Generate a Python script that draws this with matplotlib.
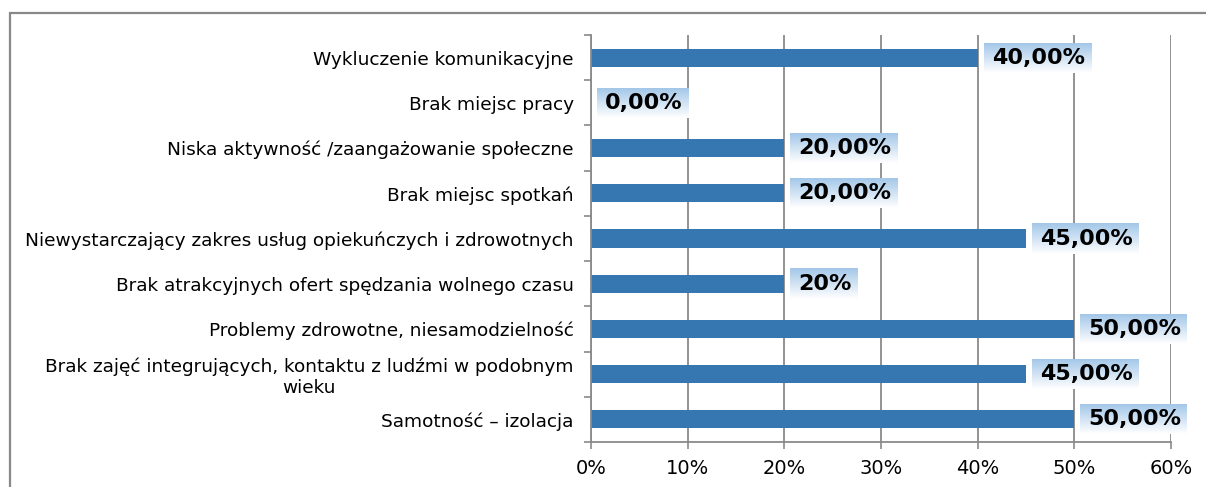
import numpy as np
import matplotlib
matplotlib.use("Agg")
import matplotlib.pyplot as plt
import matplotlib.transforms as mtransforms
from matplotlib.patches import Rectangle

# data
categories = [
    "Wykluczenie komunikacyjne",
    "Brak miejsc pracy",
    "Niska aktywność /zaangażowanie społeczne",
    "Brak miejsc spotkań",
    "Niewystarczający zakres usług opiekuńczych i zdrowotnych",
    "Brak atrakcyjnych ofert spędzania wolnego czasu",
    "Problemy zdrowotne, niesamodzielność",
    "Brak zajęć integrujących, kontaktu z ludźmi w podobnym\nwieku",
    "Samotność – izolacja",
]
values = [0.40, 0.0, 0.20, 0.20, 0.45, 0.20, 0.50, 0.45, 0.50]
value_labels = ["40,00%", "0,00%", "20,00%", "20,00%", "45,00%", "20%",
                "50,00%", "45,00%", "50,00%"]
xticks = [0, 0.1, 0.2, 0.3, 0.4, 0.5, 0.6]
xtick_labels = ["0%", "10%", "20%", "30%", "40%", "50%", "60%"]

plt.rcParams['font.family'] = ['DejaVu Sans']
grid_col = '#8a8a8a'
bar_col = '#3777b1'

fig = plt.figure(figsize=(12.06, 4.87), dpi=100)
ax = fig.add_axes([591 / 1206, 1 - 442 / 487, 580 / 1206, 407 / 487])

# outer frame
fig.patches.append(Rectangle((10 / 1206, -0.1), 1.2, 1.1 - 13 / 487,
                             transform=fig.transFigure, fill=False,
                             edgecolor='#888888', lw=1.6))

y = np.arange(len(categories))
ax.barh(y, values, height=0.4, color=bar_col, zorder=2)

ax.set_xlim(0, 0.6)
ax.set_ylim(len(categories) - 0.5, -0.5)
ax.set_xticks(xticks)
ax.set_xticklabels(xtick_labels, fontsize=14)
ax.set_yticks(y)
ax.set_yticklabels(categories, fontsize=13.3, multialignment='center')
ax.tick_params(axis='y', length=0, pad=12.5)
ax.set_yticks(np.arange(len(categories) + 1) - 0.5, minor=True)
ax.tick_params(axis='y', which='minor', length=5, color=grid_col, width=1.2)
ax.tick_params(axis='x', length=5, color=grid_col, width=1.2, pad=7)
ax.xaxis.grid(True, color=grid_col, lw=1.3, zorder=0)
ax.set_axisbelow(True)
for s in ['top', 'right']:
    ax.spines[s].set_visible(False)
for s in ['left', 'bottom']:
    ax.spines[s].set_color(grid_col)
    ax.spines[s].set_linewidth(1.3)

# value labels with gradient boxes
offset = mtransforms.offset_copy(ax.transData, fig=fig, x=14, y=0, units='dots')
texts = []
for yi, v, lab in zip(y, values, value_labels):
    t = ax.text(v, yi, lab, transform=offset, fontsize=16, fontweight='heavy',
                va='center', ha='left', zorder=5, clip_on=False)
    texts.append(t)

fig.canvas.draw()
renderer = fig.canvas.get_renderer()
top_col = np.array([0.64, 0.78, 0.91])
grad = np.linspace(0, 1, 64)[:, None, None]
img = top_col * (1 - grad) + np.ones(3) * grad
inv = ax.transData.inverted()
for t in texts:
    bb = t.get_window_extent(renderer)
    x0, x1 = bb.x0 - 8, bb.x1 + 6
    yc = (bb.y0 + bb.y1) / 2
    y0, y1 = yc - 15, yc + 15
    (dx0, dy0) = inv.transform((x0, y0))
    (dx1, dy1) = inv.transform((x1, y1))
    ax.imshow(img, extent=(dx0, dx1, dy0, dy1), origin='upper', aspect='auto',
              interpolation='bilinear', zorder=4, clip_on=False)

ax.set_xlim(0, 0.6)
ax.set_ylim(len(categories) - 0.5, -0.5)

fig.savefig("out.png", dpi=100)
